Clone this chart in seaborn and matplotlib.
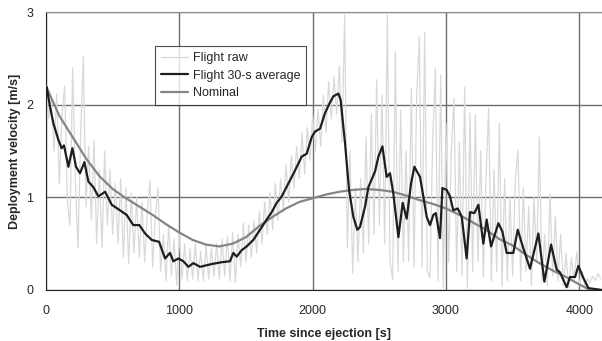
import numpy as np
import pandas as pd
import matplotlib
matplotlib.use("Agg")
import matplotlib.pyplot as plt
import seaborn as sns

# DATA
raw_t = np.arange(0, 4180, 20)
raw_v = [
    # 0 - 700
    2.25, 1.85, 2.05, 1.5, 2.12, 1.15, 1.9, 2.2, 0.95, 0.7,
    2.4, 1.2, 0.45, 1.7, 2.52, 0.9, 1.55, 0.75, 1.62, 0.5,
    1.3, 0.45, 1.5, 0.7, 1.3, 0.6, 1.15, 0.5, 1.2, 0.35,
    1.1, 0.28, 1.05, 0.4, 1.0, 0.35,
    # 720 - 1500
    0.95, 0.3, 0.85, 1.18, 0.25, 0.8, 1.1, 0.2, 0.6, 0.1,
    0.7, 0.15, 0.55, 0.05, 0.6, 0.12, 0.5, 0.1, 0.45, 0.12,
    0.5, 0.1, 0.42, 0.1, 0.48, 0.12, 0.45, 0.15, 0.5, 0.12,
    0.55, 0.15, 0.58, 0.1, 0.62, 0.08, 0.6, 0.25, 0.72, 0.3,
    # 1520 - 2240
    0.7, 0.35, 0.75, 0.4, 0.85, 0.5, 0.95, 0.6, 1.05, 0.65,
    1.15, 0.75, 1.2, 0.85, 1.35, 0.95, 1.45, 1.1, 1.55, 1.2,
    1.7, 1.25, 1.75, 1.4, 1.9, 1.5, 1.95, 1.55, 2.1, 1.7,
    2.25, 1.85, 2.3, 1.9, 2.42, 1.6, 2.97,
    # 2260 - 3000
    0.45, 1.5, 0.18, 1.1, 0.3, 1.2, 0.4, 1.65, 0.5, 1.9,
    0.6, 2.27, 0.7, 2.1, 0.5, 2.97, 0.3, 0.11, 2.57, 0.2,
    1.94, 0.3, 1.5, 0.31, 2.18, 0.25, 2.1, 2.73, 0.25, 2.78,
    0.2, 0.13, 1.6, 2.39, 0.1, 2.32, 0.03, 1.8,
    # 3020 - 4160
    0.3, 1.5, 2.07, 0.2, 1.6, 0.15, 2.19, 0.02, 1.91, 0.2,
    1.89, 0.3, 1.5, 0.14, 1.2, 1.96, 0.1, 1.3, 0.2, 1.8,
    0.04, 1.2, 0.1, 1.0, 0.15, 1.2, 1.51, 0.1, 1.1, 0.2,
    0.9, 0.05, 1.0, 0.3, 1.65, 0.1, 0.6, 0.05, 1.04, 0.15,
    0.79, 0.1, 0.6, 0.05, 0.4, 0.02, 0.35, 0.1, 0.41, 0.05,
    0.2, 0.05, 0.12, 0.08, 0.15, 0.1, 0.18, 0.12,
]

avg_t = [5, 30, 55, 93, 117, 135, 168, 198, 225, 255, 288, 318, 355, 393,
         443, 493, 555, 605, 655, 700, 743, 793, 848, 893, 930, 955, 993,
         1030, 1068, 1105, 1155, 1243, 1318, 1380, 1405, 1430, 1468, 1505,
         1555, 1605, 1655, 1693, 1730, 1768, 1818, 1868, 1918, 1955, 1993,
         2018, 2055, 2093, 2125, 2155, 2193, 2210, 2243, 2273, 2305, 2335,
         2355, 2393, 2418, 2468, 2493, 2523, 2555, 2580, 2605, 2643, 2675,
         2705, 2738, 2763, 2805, 2830, 2855, 2880, 2905, 2923, 2955, 2973,
         3005, 3030, 3055, 3088, 3118, 3155, 3180, 3213, 3243, 3280, 3305,
         3338, 3393, 3423, 3455, 3505, 3538, 3580, 3630, 3693, 3738, 3788,
         3830, 3855, 3905, 3930, 3968, 3993, 4030, 4068, 4170]
avg_v = [2.19, 1.98, 1.80, 1.62, 1.53, 1.56, 1.33, 1.53, 1.33, 1.26, 1.38,
         1.17, 1.11, 1.01, 1.06, 0.92, 0.86, 0.81, 0.70, 0.70, 0.61, 0.54,
         0.52, 0.34, 0.40, 0.31, 0.34, 0.31, 0.25, 0.29, 0.25, 0.28, 0.30,
         0.31, 0.40, 0.36, 0.43, 0.47, 0.54, 0.65, 0.76, 0.84, 0.94, 1.01,
         1.15, 1.29, 1.44, 1.47, 1.65, 1.71, 1.74, 1.91, 2.01, 2.09, 2.12,
         2.05, 1.58, 1.08, 0.79, 0.65, 0.68, 0.90, 1.11, 1.28, 1.44, 1.55,
         1.22, 1.26, 1.04, 0.57, 0.94, 0.77, 1.15, 1.33, 1.22, 1.01, 0.79,
         0.70, 0.81, 0.83, 0.56, 1.10, 1.08, 1.01, 0.86, 0.88, 0.79, 0.34,
         0.84, 0.83, 0.92, 0.50, 0.76, 0.47, 0.72, 0.63, 0.40, 0.40, 0.65,
         0.45, 0.23, 0.61, 0.09, 0.49, 0.22, 0.19, 0.03, 0.14, 0.14, 0.26,
         0.13, 0.02, 0.0]

nom_t = [0, 100, 200, 300, 400, 500, 600, 700, 800, 900, 1000, 1100, 1200,
         1300, 1400, 1500, 1600, 1700, 1800, 1900, 2000, 2100, 2200, 2300,
         2400, 2500, 2600, 2700, 2800, 2900, 3000, 3100, 3200, 3300, 3400,
         3500, 3600, 3700, 3800, 3900, 4000, 4080]
nom_v = [2.2, 1.88, 1.65, 1.42, 1.23, 1.09, 0.99, 0.90, 0.81, 0.71, 0.62,
         0.54, 0.49, 0.47, 0.50, 0.57, 0.69, 0.79, 0.88, 0.95, 0.99, 1.03,
         1.06, 1.08, 1.09, 1.08, 1.06, 1.02, 0.97, 0.93, 0.88, 0.81, 0.73,
         0.65, 0.55, 0.48, 0.38, 0.29, 0.21, 0.14, 0.06, 0.0]

assert len(raw_t) == len(raw_v)
assert len(avg_t) == len(avg_v)

raw = pd.DataFrame({"t": raw_t, "v": raw_v})
avg = pd.DataFrame({"t": avg_t, "v": avg_v})
nom = pd.DataFrame({"t": nom_t, "v": nom_v})

# PLOT
sns.set_style("white")
plt.rcParams["font.family"] = ["Liberation Sans", "DejaVu Sans"]

fig = plt.figure(figsize=(6.02, 3.41), dpi=100)
ax = fig.add_axes([0.0764, 0.1496, 0.9236, 0.8152])

sns.lineplot(data=raw, x="t", y="v", ax=ax, color="#d9d9d9", lw=0.9,
             label="Flight raw", zorder=2)
sns.lineplot(data=avg, x="t", y="v", ax=ax, color="#1e1e1e", lw=1.6,
             label="Flight 30-s average", zorder=4)
sns.lineplot(data=nom, x="t", y="v", ax=ax, color="#858585", lw=1.6,
             label="Nominal", zorder=3)

ax.set_xlim(0, 4170)
ax.set_ylim(0, 3)
ax.set_xticks([0, 1000, 2000, 3000, 4000])
ax.set_yticks([0, 1, 2, 3])
ax.grid(True, color="#6e6e6e", lw=1.0, zorder=1)
ax.set_axisbelow(True)

ax.spines["right"].set_visible(False)
ax.spines["top"].set_color("#8c8c8c")
ax.spines["left"].set_color("#222222")
ax.spines["bottom"].set_color("#222222")
ax.tick_params(axis="both", direction="out", length=4, width=1,
               color="#222222", labelsize=9, pad=5)
ax.tick_params(axis="x", pad=7)

ax.set_xlabel("Time since ejection [s]", fontsize=9, fontweight="bold",
              labelpad=8)
ax.set_ylabel("Deployment velocity [m/s]", fontsize=9, fontweight="bold",
              labelpad=4)

leg = ax.legend(loc="upper left", bbox_to_anchor=(0.196, 0.876),
                frameon=True, fancybox=False, fontsize=9, handlelength=2.2,
                borderpad=0.45, labelspacing=0.45, handletextpad=0.4,
                borderaxespad=0)
leg.get_frame().set_edgecolor("#222222")
leg.get_frame().set_linewidth(0.8)

fig.savefig("out.png", dpi=100)
